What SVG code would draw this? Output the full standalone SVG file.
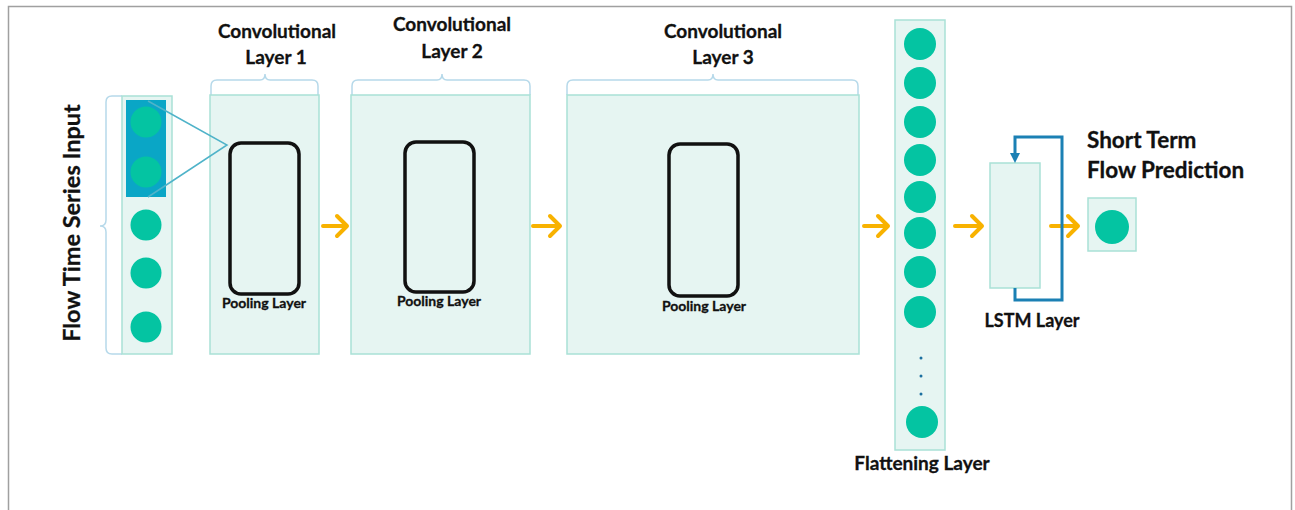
<svg xmlns="http://www.w3.org/2000/svg" width="1295" height="510" viewBox="0 0 1295 510">
<style>
.panel{fill:#e6f5f2;stroke:#a9e1d6;stroke-width:1.5}
.dot{fill:#04c4a2}
.pool{fill:none;stroke:#111;stroke-width:3.5}
.brace{fill:none;stroke:#b6d9ea;stroke-width:1.5}
.arrow{fill:none;stroke:#f8b200;stroke-width:4;stroke-linecap:round;stroke-linejoin:round}
.t{font-family:Lato,"Open Sans",sans-serif;font-weight:bold;fill:#111;stroke:#111;stroke-width:0.3}
.title{font-size:19px;text-anchor:middle}
.small{font-size:14px;text-anchor:middle}
</style>
<rect x="0" y="0" width="1295" height="510" fill="#fff"/>
<path d="M8.5,520 V6.5 H1291.5 V520" fill="none" stroke="#a0a0a0" stroke-width="1.5"/>

<g id="input">
<path class="brace" d="M122,96 H112 Q106,96 106,102 V220 Q106,226 100,226 Q106,226 106,232 V348 Q106,354 112,354 H122"/>
<rect class="panel" x="122" y="96" width="50" height="258"/>
<rect x="126" y="100" width="40" height="97" fill="#0aa6c6"/>
<circle class="dot" cx="146" cy="122" r="15.5"/>
<circle class="dot" cx="146" cy="172" r="15.5"/>
<circle class="dot" cx="146" cy="225" r="15.5"/>
<circle class="dot" cx="146" cy="273" r="15.5"/>
<circle class="dot" cx="146" cy="327" r="15.5"/>
<text class="t" font-size="23.5" text-anchor="middle" transform="translate(80,223) rotate(-90)">Flow Time Series Input</text>
</g>

<g id="conv1">
<path class="brace" d="M211,95 V86 Q211,80 217,80 H260 Q265,80 265,74 Q265,80 270,80 H312 Q318,80 318,86 V95"/>
<rect class="panel" x="210" y="95" width="109" height="259"/>
<rect class="pool" x="230" y="143" width="69" height="151" rx="11"/>
<text class="t small" x="264" y="308">Pooling Layer</text>
<text class="t title" x="277" y="38">Convolutional</text>
<text class="t title" x="276" y="64">Layer 1</text>
</g>

<g id="conv2">
<path class="brace" d="M352,95 V86 Q352,80 358,80 H437 Q442,80 442,74 Q442,80 447,80 H524 Q530,80 530,86 V95"/>
<rect class="panel" x="351" y="95" width="179" height="259"/>
<rect class="pool" x="405" y="142" width="69" height="150" rx="11"/>
<text class="t small" x="439" y="306">Pooling Layer</text>
<text class="t title" x="452" y="31">Convolutional</text>
<text class="t title" x="452" y="58">Layer 2</text>
</g>

<g id="conv3">
<path class="brace" d="M567,95 V86 Q567,80 573,80 H708 Q713,80 713,74 Q713,80 718,80 H852 Q858,80 858,86 V95"/>
<rect class="panel" x="567" y="95" width="292" height="259"/>
<rect class="pool" x="669" y="144" width="69" height="152" rx="11"/>
<text class="t small" x="704" y="311">Pooling Layer</text>
<text class="t title" x="723" y="38">Convolutional</text>
<text class="t title" x="723" y="64">Layer 3</text>
</g>

<g id="flatten">
<rect class="panel" x="895" y="20" width="50" height="430"/>
<circle class="dot" cx="920" cy="44" r="16"/>
<circle class="dot" cx="920" cy="83" r="16"/>
<circle class="dot" cx="920" cy="122" r="16"/>
<circle class="dot" cx="920" cy="160" r="16"/>
<circle class="dot" cx="920" cy="197" r="16"/>
<circle class="dot" cx="920" cy="233" r="16"/>
<circle class="dot" cx="920" cy="272" r="16"/>
<circle class="dot" cx="920" cy="312" r="16"/>
<circle cx="921" cy="358" r="1.5" fill="#1b6fa0"/>
<circle cx="921" cy="376" r="1.5" fill="#1b6fa0"/>
<circle cx="921" cy="394" r="1.5" fill="#1b6fa0"/>
<circle class="dot" cx="922" cy="422" r="16"/>
<text class="t" font-size="19" text-anchor="middle" x="922" y="470">Flattening Layer</text>
</g>

<g id="lstm">
<rect class="panel" x="990" y="163" width="50" height="125"/>
<text class="t" font-size="18" text-anchor="middle" x="1032" y="327">LSTM Layer</text>
</g>

<g id="output">
<rect class="panel" x="1088" y="198" width="48" height="53"/>
<circle class="dot" cx="1112" cy="227" r="17"/>
<text class="t" font-size="22.5" x="1087" y="148">Short Term</text>
<text class="t" font-size="22.5" x="1087" y="178">Flow Prediction</text>
</g>

<g id="connectors">
<path d="M148,101 L227,145 L148,197" fill="none" stroke="#4fb3c9" stroke-width="1.5"/>
<path class="arrow" d="M323,226 H346 M337,216 L347,226 L337,236"/>
<path class="arrow" d="M533,226 H559 M550,216 L560,226 L550,236"/>
<path class="arrow" d="M864,226 H887 M878,216 L888,226 L878,236"/>
<path class="arrow" d="M955,226 H981 M972,216 L982,226 L972,236"/>
<path class="arrow" d="M1051,226 H1077 M1068,216 L1078,226 L1068,236"/>
<path d="M1015,288 V300 H1062 V137 H1015 V155" fill="none" stroke="#1b80b4" stroke-width="3"/>
<path d="M1010,153 L1015,163 L1020,153 Z" fill="#1b80b4"/>
</g>
</svg>
